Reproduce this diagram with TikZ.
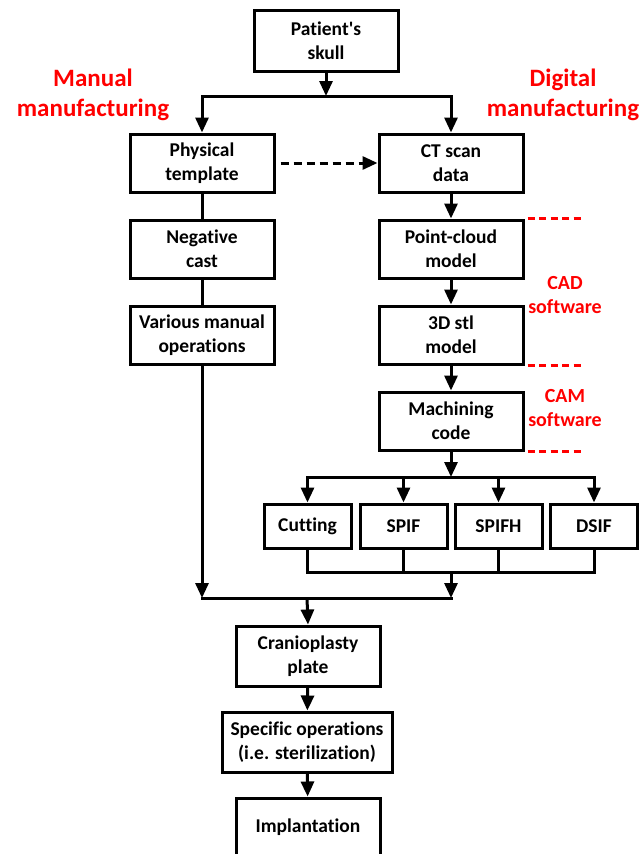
\documentclass[tikz,border=0pt]{standalone}
\usepackage{fontspec}
\setmainfont{Carlito}[Ligatures={TeXOff,CommonOff}]
\usetikzlibrary{arrows.meta}
\begin{document}
\begin{tikzpicture}[x=1pt,y=-1pt,
  box/.style={draw,line width=3pt,minimum width=144pt,minimum height=58pt,inner sep=0pt,align=center,
    font=\fontsize{19.5}{24}\selectfont\bfseries},
  smallbox/.style={box,minimum width=87pt,minimum height=44pt},
  conn/.style={line width=3pt},
  hline/.style={line width=3pt,line cap=rect},
  arr/.style={line width=3pt,-{Triangle[length=15pt,width=13pt]}},
  dasharr/.style={arr,dash pattern=on 8pt off 5pt},
  reddash/.style={line width=3pt,red,dash pattern=on 7pt off 4.5pt},
  biglabel/.style={text=red,align=center,font=\fontsize{25}{30}\selectfont\bfseries},
  softlabel/.style={text=red,align=center,font=\fontsize{20}{24}\selectfont\bfseries}]
\useasboundingbox (0,0) rectangle (643,854);
\clip (0,0) rectangle (643,854);

% nodes
\node[box,minimum height=61pt] (skull) at (326,40.5) {Patient's\\skull};
\node[biglabel] (manual) at (93,95) {Manual\\manufacturing};
\node[biglabel] (digital) at (563,95) {Digital\\manufacturing};

\node[box] (phys) at (202,163) {Physical\\template};
\node[box] (ct) at (451,163) {CT scan\\data};
\node[box] (neg) at (202,249) {Negative\\cast};
\node[box] (pc) at (451,249) {Point-cloud\\model};
\node[box] (var) at (202,335) {Various manual\\operations};
\node[box] (stl) at (451,335) {3D stl\\model};
\node[box] (mach) at (451,421) {Machining\\code};

\node[softlabel] (cad) at (565,295) {CAD\\software};
\node[softlabel] (cam) at (565,408.5) {CAM\\software};

\node[smallbox] (cut) at (307.5,526) {Cutting};
\node[smallbox] (spif) at (403.5,526) {SPIF};
\node[smallbox] (spifh) at (498.5,526) {SPIFH};
\node[smallbox] (dsif) at (594,526) {DSIF};

\node[box,minimum height=60pt] (cran) at (308,656) {Cranioplasty\\plate};
\node[box,minimum width=170pt,minimum height=60pt] (spec) at (307,742) {Specific operations\\(i.e. sterilization)};
\node[box] (impl) at (308,827) {Implantation};

% coordinates
\coordinate (split) at (326,96);
\coordinate (fan) at (451,477);
\coordinate (gather) at (451,572);
\coordinate (merge) at (307,598);

% top split
\draw[arr] (skull.south) -- (split);
\draw[hline] (phys.north |- split) -- (ct.north |- split);
\draw[arr] (phys.north |- split) -- (phys.north);
\draw[arr] (ct.north |- split) -- (ct.north);
\draw[dasharr] ([xshift=5pt]phys.east) -- (ct.west);

% manual chain
\draw[conn] (phys) -- (neg);
\draw[conn] (neg) -- (var);
\draw[arr] (var.south) -- (var.south |- merge);

% digital chain
\draw[arr] (ct) -- (pc);
\draw[arr] (pc) -- (stl);
\draw[arr] (stl) -- (mach);
\draw[reddash] ([xshift=3pt]pc.north east) -- ++(54,0);
\draw[reddash] ([xshift=3pt]stl.south east) -- ++(54,0);
\draw[reddash] ([xshift=3pt]mach.south east) -- ++(54,0);

% fan out
\draw[arr] (mach.south) -- (fan);
\draw[hline] (cut.north |- fan) -- (dsif.north |- fan);
\draw[arr] (cut.north |- fan) -- (cut.north);
\draw[arr] (spif.north |- fan) -- (spif.north);
\draw[arr] (spifh.north |- fan) -- (spifh.north);
\draw[arr] (dsif.north |- fan) -- (dsif.north);

% gather
\draw[conn,line join=miter] (cut.south) -- (cut.south |- gather) -- (dsif.south |- gather) -- (dsif.south);
\draw[conn] (spif.south) -- (spif.south |- gather);
\draw[conn] (spifh.south) -- (spifh.south |- gather);
\draw[arr] (gather) -- (gather |- merge);

% merge
\draw[hline] (var.south |- merge) -- (gather |- merge);
\draw[arr] (merge) -- (cran.north);
\draw[arr] (cran) -- (spec);
\draw[arr] (spec) -- (impl);
\end{tikzpicture}
\end{document}
